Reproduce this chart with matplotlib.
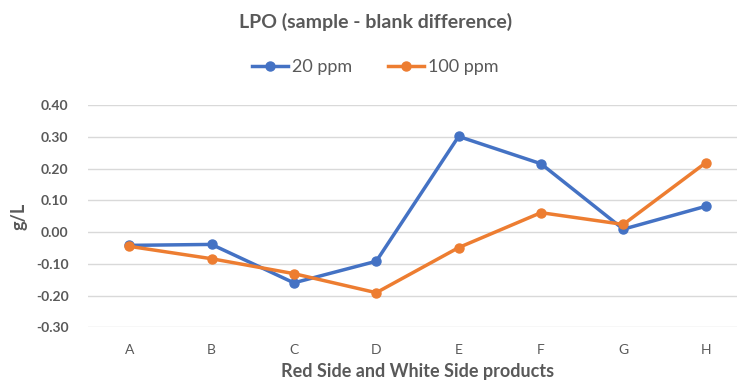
import matplotlib
matplotlib.use("Agg")
import matplotlib.pyplot as plt

plt.rcParams['font.family'] = ['Lato', 'DejaVu Sans']

#%%data
categories = ["A", "B", "C", "D", "E", "F", "G", "H"]
ppm20 = [-0.042, -0.039, -0.160, -0.092, 0.301, 0.215, 0.009, 0.081]
ppm100 = [-0.045, -0.084, -0.131, -0.191, -0.049, 0.061, 0.024, 0.218]
yticks = [-0.30, -0.20, -0.10, 0.00, 0.10, 0.20, 0.30, 0.40]

BLUE = "#4472C4"
ORANGE = "#ED7D31"
GREY = "#595959"

#%%plot
fig = plt.figure(figsize=(7.37, 3.88), dpi=100)
ax = fig.add_axes([0.1194, 0.1564, 0.8806, 0.573])

x = range(len(categories))
ax.plot(x, ppm20, color=BLUE, lw=2.5, marker="o", ms=6.5, label="20 ppm", zorder=3)
ax.plot(x, ppm100, color=ORANGE, lw=2.5, marker="o", ms=6.5, label="100 ppm", zorder=3)

ax.set_xlim(-0.5, 7.38)
ax.set_ylim(-0.30, 0.40)
ax.set_yticks(yticks)
ax.set_yticklabels([f"{v:.2f}" for v in yticks], fontweight="bold")
ax.set_xticks(list(x))
ax.set_xticklabels(categories)
ax.tick_params(length=0, labelsize=10, labelcolor=GREY)
ax.tick_params(axis="y", pad=14)
ax.tick_params(axis="x", pad=12)
ax.grid(axis="y", color="#D9D9D9", lw=1)
ax.set_axisbelow(True)
for s in ax.spines.values():
    s.set_visible(False)

ax.set_ylabel("g/L", fontsize=13, fontweight="bold", color=GREY, labelpad=6)
fig.text(0.566, 0.02, "Red Side and White Side products", ha="center", va="bottom",
         fontsize=13, fontweight="bold", color=GREY)
fig.text(0.509, 0.943, "LPO (sample - blank difference)", ha="center", va="center",
         fontsize=14, fontweight="bold", color=GREY)

fig.legend(loc="center", bbox_to_anchor=(0.509, 0.827), ncol=2, frameon=False,
           fontsize=13, labelcolor=GREY, handlelength=2.0, handletextpad=0.2,
           columnspacing=2.0)

fig.savefig("out.png", dpi=100)
